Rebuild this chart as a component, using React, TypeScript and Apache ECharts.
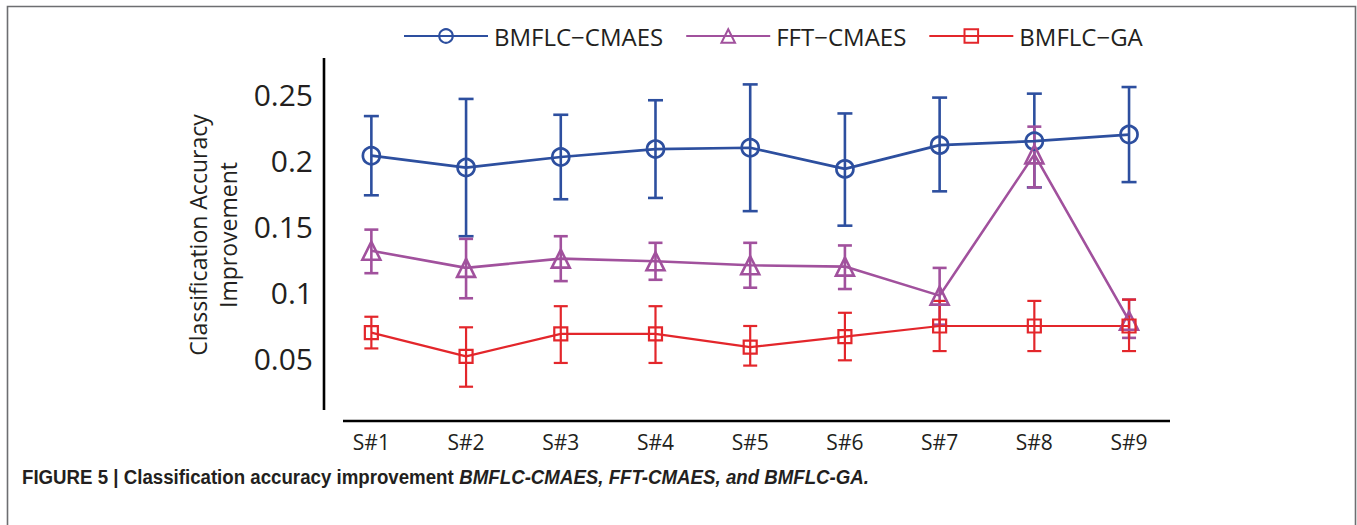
import React, { useEffect, useRef } from "react";
import * as echarts from "echarts";

const categories = ["S#1", "S#2", "S#3", "S#4", "S#5", "S#6", "S#7", "S#8", "S#9"];
const yTicks = [0.05, 0.1, 0.15, 0.2, 0.25];

const seriesNames = ["BMFLC\u2212CMAES", "FFT\u2212CMAES", "BMFLC\u2212GA"];

const bmflcCmaesMean = [0.204, 0.195, 0.203, 0.209, 0.21, 0.194, 0.212, 0.215, 0.22];
const bmflcCmaesLow = [0.174, 0.143, 0.171, 0.172, 0.162, 0.151, 0.177, 0.18, 0.184];
const bmflcCmaesHigh = [0.234, 0.247, 0.235, 0.246, 0.258, 0.236, 0.248, 0.251, 0.256];

const fftCmaesMean = [0.132, 0.119, 0.126, 0.124, 0.121, 0.12, 0.098, 0.205, 0.079];
const fftCmaesLow = [0.115, 0.096, 0.109, 0.11, 0.104, 0.103, 0.076, 0.18, 0.066];
const fftCmaesHigh = [0.148, 0.141, 0.143, 0.138, 0.138, 0.136, 0.119, 0.226, 0.095];

const bmflcGaMean = [0.07, 0.052, 0.069, 0.069, 0.059, 0.067, 0.075, 0.075, 0.075];
const bmflcGaLow = [0.058, 0.029, 0.047, 0.047, 0.045, 0.049, 0.056, 0.056, 0.056];
const bmflcGaHigh = [0.082, 0.074, 0.09, 0.09, 0.075, 0.085, 0.094, 0.094, 0.095];

const BLUE = "#2d4f9f";
const PURPLE = "#a1519d";
const RED = "#e3262b";
const FONT = "'Open Sans', sans-serif";

function errorSeries(name: string, low: number[], high: number[], color: string, lw: number, cap: number) {
  return {
    type: "custom",
    name,
    z: 3,
    data: low.map((l, i) => [i, l, high[i]]),
    renderItem: (params: any, api: any) => {
      const x = api.value(0);
      const lo = api.coord([x, api.value(1)]);
      const hi = api.coord([x, api.value(2)]);
      const style = { stroke: color, lineWidth: lw, fill: "none" };
      return {
        type: "group",
        children: [
          { type: "line", shape: { x1: lo[0], y1: lo[1], x2: hi[0], y2: hi[1] }, style },
          { type: "line", shape: { x1: lo[0] - cap, y1: lo[1], x2: lo[0] + cap, y2: lo[1] }, style },
          { type: "line", shape: { x1: hi[0] - cap, y1: hi[1], x2: hi[0] + cap, y2: hi[1] }, style },
        ],
      };
    },
  };
}

function lineSeries(name: string, data: number[], color: string, symbol: string, size: number, lw: number) {
  return {
    type: "line",
    name,
    data,
    z: 4,
    symbol,
    symbolSize: size,
    showAllSymbol: true,
    lineStyle: { color, width: lw },
    itemStyle: { color: "rgba(255,255,255,0)", borderColor: color, borderWidth: lw },
  };
}

export default function App() {
  const ref = useRef<HTMLDivElement>(null);
  useEffect(() => {
    if (!ref.current) return;
    const chart = echarts.init(ref.current, null, { renderer: "svg" });
    chart.setOption({
      animation: false,
      backgroundColor: "#ffffff",
      textStyle: { fontFamily: FONT },
      legend: {
        data: seriesNames,
        left: 398,
        top: 19,
        itemWidth: 84,
        itemHeight: 17,
        itemGap: 22,
        textStyle: { fontSize: 24, color: "#231f20", fontFamily: FONT, padding: [0, 0, 0, 1] },
      },
      grid: { left: 324, right: 180.6, top: 58, bottom: 100 },
      xAxis: {
        type: "category",
        data: categories,
        boundaryGap: true,
        axisLine: { show: false },
        axisTick: { show: false },
        axisLabel: { fontSize: 21, color: "#231f20", margin: 6, fontFamily: FONT },
        splitLine: { show: false },
      },
      yAxis: {
        type: "value",
        min: 0,
        max: 0.278,
        interval: 0.05,
        axisLine: { show: false },
        axisTick: { show: false },
        splitLine: { show: false },
        axisLabel: {
          fontSize: 30,
          color: "#231f20",
          margin: 11,
          fontFamily: FONT,
          formatter: (v: number) => {
            const t = yTicks.find((k) => Math.abs(k - v) < 1e-9);
            return t === undefined ? "" : String(t);
          },
        },
      },
      graphic: [
        {
          type: "polyline",
          shape: { points: [[7.5, 540], [7.5, 6.5], [1355.5, 6.5], [1355.5, 540]] },
          style: { stroke: "#6d6e71", lineWidth: 1.6, fill: "none" },
          silent: true,
        },
        {
          type: "line",
          shape: { x1: 324, y1: 58, x2: 324, y2: 410 },
          style: { stroke: "#000", lineWidth: 2.6 },
          silent: true,
        },
        {
          type: "line",
          shape: { x1: 343, y1: 421, x2: 1170, y2: 421 },
          style: { stroke: "#000", lineWidth: 2.6 },
          silent: true,
        },
        {
          type: "text",
          x: 213,
          y: 235,
          rotation: Math.PI / 2,
          style: {
            text: "Classification Accuracy\nImprovement",
            fontSize: 23,
            lineHeight: 30,
            fontFamily: FONT,
            fill: "#231f20",
            align: "center",
            verticalAlign: "middle",
          },
        },
        {
          type: "text",
          x: 22,
          y: 477,
          scaleX: 0.89,
          style: {
            text: "{b|FIGURE 5 | Classification accuracy improvement }{i|BMFLC-CMAES, FFT-CMAES, and BMFLC-GA.}",
            verticalAlign: "middle",
            rich: {
              b: { fontSize: 21, fontWeight: "bold", fontFamily: "'Liberation Sans', Arial, sans-serif", fill: "#231f20" },
              i: { fontSize: 21, fontWeight: "bold", fontStyle: "italic", fontFamily: "'Liberation Sans', Arial, sans-serif", fill: "#231f20" },
            },
          },
        },
      ],
      series: [
        errorSeries("err1", bmflcCmaesLow, bmflcCmaesHigh, BLUE, 2.6, 7.5),
        errorSeries("err2", fftCmaesLow, fftCmaesHigh, PURPLE, 2.6, 7),
        errorSeries("err3", bmflcGaLow, bmflcGaHigh, RED, 2.2, 7),
        lineSeries(seriesNames[0], bmflcCmaesMean, BLUE, "circle", 17, 2.7),
        lineSeries(seriesNames[1], fftCmaesMean, PURPLE, "triangle", 18, 2.6),
        lineSeries(seriesNames[2], bmflcGaMean, RED, "rect", 13, 2.2),
      ],
    });
    return () => chart.dispose();
  }, []);
  return (
    <div
      ref={ref}
      style={{ position: "fixed", left: 0, top: 0, width: 1357, height: 525, background: "#fff" }}
    />
  );
}
